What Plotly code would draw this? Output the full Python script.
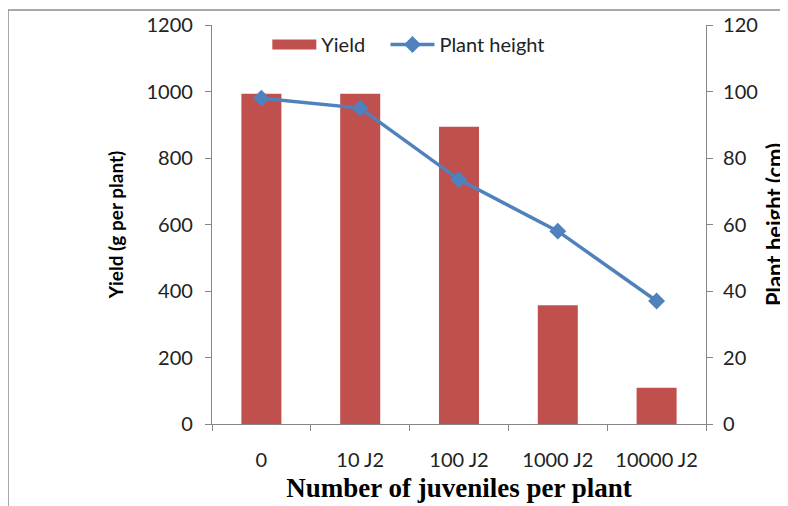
import plotly.graph_objects as go

categories = ["0", "10 J2", "100 J2", "1000 J2", "10000 J2"]
yield_g = [993, 993, 894, 357, 109]
plant_height = [98, 95, 73.5, 58, 37]

# page has 8px body margin; figure drawn from (8,8)
OFF = 8
W, H = 788 - OFF, 506 - OFF
L, R, T, B = 212 - OFF, 706 - OFF, 25 - OFF, 424 - OFF

font_main = "Lato, 'Open Sans', sans-serif"
axis_col = "#868686"
bar_col = "#C0504D"
line_col = "#4F81BD"

fig = go.Figure()
fig.add_trace(go.Bar(x=categories, y=yield_g, name="Yield",
                     marker=dict(color=bar_col, line=dict(width=0)),
                     yaxis="y", showlegend=False))
# legend stand-in for bar (wide rectangle swatch)
fig.add_trace(go.Scatter(x=[None], y=[None], name="Yield\u00a0\u00a0\u00a0", mode="lines",
                         line=dict(color=bar_col, width=11), yaxis="y"))
fig.add_trace(go.Scatter(x=categories, y=plant_height, name="Plant height",
                         mode="lines+markers",
                         line=dict(color=line_col, width=3.5),
                         marker=dict(symbol="diamond", size=13, color=line_col),
                         yaxis="y2"))

def px_x(p):
    return (p - OFF - L) / (R - L)

def px_y(p):
    return (B - (p - OFF)) / (B - T)

fig.add_shape(type="rect", xref="paper", yref="paper",
              x0=px_x(8), x1=px_x(900), y0=px_y(700), y1=px_y(10),
              line=dict(color="#8c8c8c", width=1.5), layer="below")

fig.update_layout(
    width=W, height=H,
    margin=dict(l=L, r=W - R, t=T, b=H - B, pad=0, autoexpand=False),
    paper_bgcolor="white", plot_bgcolor="white",
    bargap=0.595,
    showlegend=True,
    legend=dict(orientation="h", x=0.112, y=1.0, xanchor="left", yanchor="top",
                font=dict(family=font_main, size=20, color="#222"),
                bgcolor="rgba(0,0,0,0)", itemwidth=44, tracegroupgap=0),
    font=dict(family=font_main, size=20, color="#222"),
    xaxis=dict(type="category", showline=True, linecolor=axis_col, linewidth=1.2,
               ticks="outside", ticklen=6, tickcolor=axis_col, tickson="boundaries",
               showgrid=False, ticklabelstandoff=18,
               tickfont=dict(family=font_main, size=20, color="#222"),
               title=dict(text="<b>Number of juveniles per plant</b>",
                          font=dict(family="'Liberation Serif', 'Times New Roman', serif",
                                    size=27, color="#000"), standoff=8)),
    yaxis=dict(range=[0, 1200], dtick=200, showline=True, linecolor=axis_col, linewidth=1.2,
               ticks="outside", ticklen=6, tickcolor=axis_col, showgrid=False,
               zeroline=False, ticklabelstandoff=8,
               tickfont=dict(family=font_main, size=20, color="#222"),
               title=dict(text="<b>Yield (g per plant)</b>",
                          font=dict(family=font_main, size=19, color="#000"), standoff=17)),
    yaxis2=dict(range=[0, 120], dtick=20, overlaying="y", side="right", showline=True,
                linecolor=axis_col, linewidth=1.2, ticks="outside", ticklen=6,
                tickcolor=axis_col, showgrid=False, zeroline=False, ticklabelstandoff=6,
                tickfont=dict(family=font_main, size=20, color="#222"),
                title=dict(text="<b>Plant height (cm)</b>",
                           font=dict(family=font_main, size=22, color="#000"), standoff=34)),
)

fig.write_html("out.html")
